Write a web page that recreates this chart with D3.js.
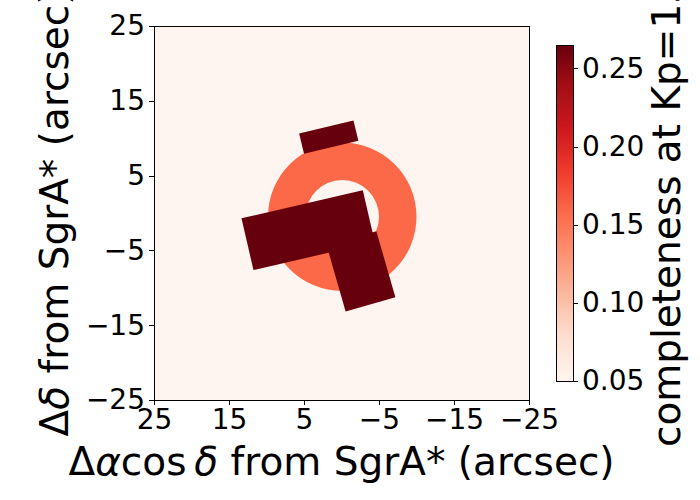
<!DOCTYPE html>
<html>
<head>
<meta charset="utf-8">
<script src="https://cdn.jsdelivr.net/npm/d3@7"></script>
<style>
  html, body { margin: 0; padding: 0; background: #ffffff; }
  svg { display: block; font-family: "DejaVu Sans", sans-serif; }
</style>
</head>
<body>
<svg id="chart" width="700" height="500"></svg>
<script>
// ---------------- data ----------------
const xTickValues = [25, 15, 5, -5, -15, -25];
const yTickValues = [25, 15, 5, -5, -15, -25];
const colorbarTicks = [0.05, 0.10, 0.15, 0.20, 0.25];
const valueRange = [0.05, 0.265];

// circular (annulus) field: centre & radii in arcsec, completeness value
const ringFields = [
  { cx: -0.1, cy: -0.5, rInner: 4.9, rOuter: 9.9, value: 0.158 }
];
// rectangular fields: centre (arcsec), width/height (arcsec), rotation (deg), value
const rectFields = [
  { cx: 1.7,  cy: 10.15, w: 7.45, h: 2.8, angle: 13.5, value: 0.265 },
  { cx: 4.45, cy: -2.3,  w: 16.6, h: 7.1, angle: 13.0, value: 0.265 },
  { cx: -2.6, cy: -7.8,  w: 6.9,  h: 9.2, angle: 16.0, value: 0.265 }
];
const redsPalette = ["#fff5f0","#fee0d2","#fcbba1","#fc9272","#fb6a4a","#ef3b2c","#cb181d","#a50f15","#67000d"];

// ---------------- layout ----------------
const svg = d3.select("#chart");
const plot = { left: 154, right: 529, top: 26, bottom: 400 };
const cb = { left: 556, right: 573, top: 45, bottom: 381 };

const x = d3.scaleLinear().domain([25, -25]).range([plot.left, plot.right]);
const y = d3.scaleLinear().domain([-25, 25]).range([plot.bottom, plot.top]);
const color = d3.scaleLinear()
  .domain(d3.range(redsPalette.length).map(i => valueRange[0] + i * (valueRange[1] - valueRange[0]) / (redsPalette.length - 1)))
  .range(redsPalette)
  .clamp(true);

// background (value at vmin)
svg.append("rect")
  .attr("x", plot.left).attr("y", plot.top)
  .attr("width", plot.right - plot.left).attr("height", plot.bottom - plot.top)
  .attr("fill", color(valueRange[0]));

const g = svg.append("g");

// annulus
const arc = d3.arc();
ringFields.forEach(f => {
  const pxPerUnit = Math.abs(x(1) - x(0));
  g.append("path")
    .attr("transform", `translate(${x(f.cx)},${y(f.cy)})`)
    .attr("d", arc({ innerRadius: f.rInner * pxPerUnit, outerRadius: f.rOuter * pxPerUnit, startAngle: 0, endAngle: 2 * Math.PI }))
    .attr("fill", color(f.value));
});

// rotated rectangles
rectFields.forEach(f => {
  const t = f.angle * Math.PI / 180;
  const u = [-Math.cos(t), Math.sin(t)];
  const v = [-Math.sin(t), -Math.cos(t)];
  const corners = [[-1, -1], [1, -1], [1, 1], [-1, 1]].map(([a, b]) => {
    const dx = f.cx + a * f.w / 2 * u[0] + b * f.h / 2 * v[0];
    const dy = f.cy + a * f.w / 2 * u[1] + b * f.h / 2 * v[1];
    return [x(dx), y(dy)];
  });
  g.append("path")
    .attr("d", d3.line()(corners) + "Z")
    .attr("fill", color(f.value));
});

// axes
const xAxis = d3.axisBottom(x).tickValues(xTickValues).tickSize(5).tickPadding(4)
  .tickFormat(d => d3.format("d")(d).replace("-", "\u2212"));
const yAxis = d3.axisLeft(y).tickValues(yTickValues).tickSize(5).tickPadding(4)
  .tickFormat(d => d3.format("d")(d).replace("-", "\u2212"));

const gx = svg.append("g").attr("transform", `translate(0,${plot.bottom})`).call(xAxis);
const gy = svg.append("g").attr("transform", `translate(${plot.left},0)`).call(yAxis);
[gx, gy].forEach(a => {
  a.select(".domain").remove();
  a.selectAll("line").attr("stroke", "#000").attr("stroke-width", 1).attr("shape-rendering", "crispEdges");
  a.selectAll("text").attr("font-size", 28).attr("fill", "#000").attr("font-family", "DejaVu Sans");
});

// spines
svg.append("rect")
  .attr("x", plot.left).attr("y", plot.top)
  .attr("width", plot.right - plot.left).attr("height", plot.bottom - plot.top)
  .attr("fill", "none").attr("stroke", "#000").attr("stroke-width", 1)
  .attr("shape-rendering", "crispEdges");

// axis labels
const xl = svg.append("text")
  .attr("x", (plot.left + plot.right) / 2).attr("y", 475)
  .attr("text-anchor", "middle").attr("font-size", 39).attr("fill", "#000");
xl.append("tspan").text("\u0394");
xl.append("tspan").attr("font-style", "italic").text("\u03b1");
xl.append("tspan").text("cos\u2009");
xl.append("tspan").attr("font-style", "italic").text("\u03b4");
xl.append("tspan").text(" from SgrA* (arcsec)");

const yl = svg.append("text")
  .attr("transform", `translate(68,${(plot.top + plot.bottom) / 2}) rotate(-90)`)
  .attr("text-anchor", "middle").attr("font-size", 39).attr("fill", "#000");
yl.append("tspan").text("\u0394");
yl.append("tspan").attr("font-style", "italic").text("\u03b4");
yl.append("tspan").text(" from SgrA* (arcsec)");

// colorbar
const defs = svg.append("defs");
const grad = defs.append("linearGradient").attr("id", "cbgrad")
  .attr("x1", 0).attr("y1", 1).attr("x2", 0).attr("y2", 0);
d3.range(0, 1.0001, 0.02).forEach(t => {
  grad.append("stop").attr("offset", t)
    .attr("stop-color", color(valueRange[0] + t * (valueRange[1] - valueRange[0])));
});
svg.append("rect")
  .attr("x", cb.left).attr("y", cb.top)
  .attr("width", cb.right - cb.left).attr("height", cb.bottom - cb.top)
  .attr("fill", "url(#cbgrad)").attr("stroke", "#000").attr("stroke-width", 1)
  .attr("shape-rendering", "crispEdges");

const cbScale = d3.scaleLinear().domain(valueRange).range([cb.bottom, cb.top]);
const cbAxis = d3.axisRight(cbScale).tickValues(colorbarTicks).tickSize(5).tickPadding(4)
  .tickFormat(d3.format(".2f"));
const gcb = svg.append("g").attr("transform", `translate(${cb.right},0)`).call(cbAxis);
gcb.select(".domain").remove();
gcb.selectAll("line").attr("stroke", "#000").attr("stroke-width", 1).attr("shape-rendering", "crispEdges");
gcb.selectAll("text").attr("font-size", 28).attr("fill", "#000").attr("font-family", "DejaVu Sans");

svg.append("text")
  .attr("transform", `translate(680,${(cb.top + cb.bottom) / 2}) rotate(-90)`)
  .attr("text-anchor", "middle").attr("font-size", 39).attr("fill", "#000")
  .text("completeness at Kp=15");
</script>
</body>
</html>
